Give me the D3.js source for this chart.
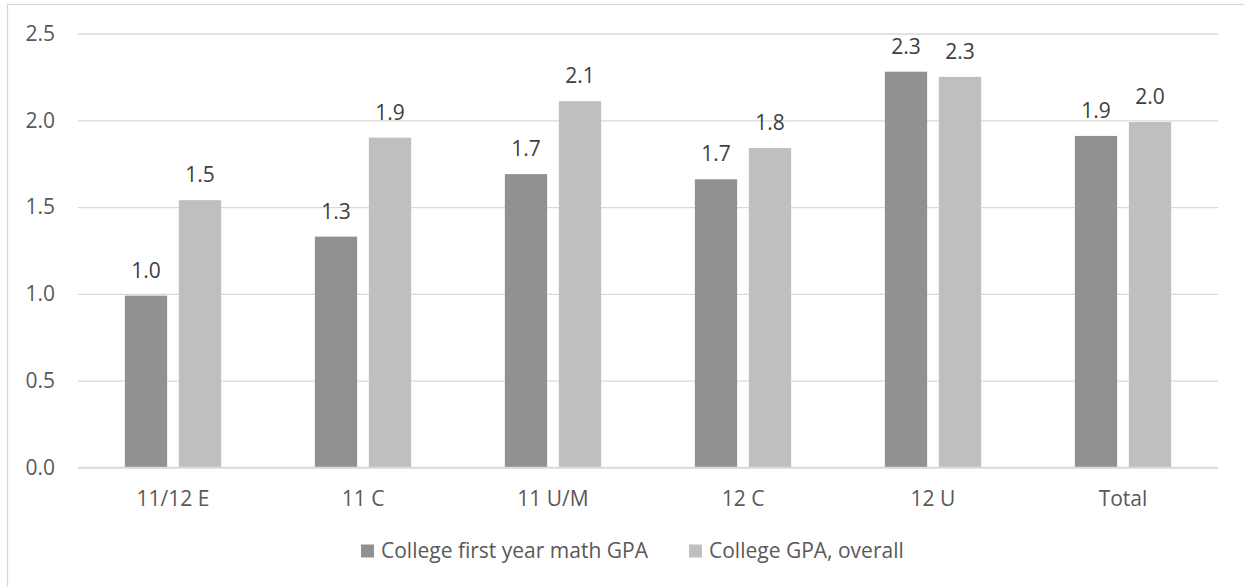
<!DOCTYPE html>
<html>
<head>
<meta charset="utf-8">
<script src="https://cdn.jsdelivr.net/npm/d3@7"></script>
<style>
  html, body { margin: 0; padding: 0; background: #fff; }
  svg { display: block; font-family: "Open Sans", sans-serif; }
</style>
</head>
<body>
<svg id="chart" width="1244" height="587"></svg>
<script>
const categories = ["11/12 E", "11 C", "11 U/M", "12 C", "12 U", "Total"];
const seriesNames = ["College first year math GPA", "College GPA, overall"];
const mathGPA = [0.99, 1.33, 1.69, 1.66, 2.28, 1.91];
const overallGPA = [1.54, 1.90, 2.11, 1.84, 2.25, 1.99];
const yTicks = [0, 0.5, 1.0, 1.5, 2.0, 2.5];
const colors = ["#919191", "#bfbfbf"];

(function () {
const svg = d3.select("#chart");
const plotL = 78, plotR = 1218, plotT = 33.5, plotB = 467.5;

// frame
svg.append("rect").attr("x", 7.5).attr("y", 4.5).attr("width", 1250).attr("height", 600)
  .attr("fill", "none").attr("stroke", "#d9d9d9").attr("stroke-width", 1.3);

const y = d3.scaleLinear().domain([0, 2.5]).range([plotB, plotT]);
const x0 = d3.scaleBand().domain(categories).range([plotL, plotR]);
const groupW = 96.3;
const x1 = d3.scaleBand().domain(seriesNames)
  .range([x0.bandwidth() / 2 - groupW / 2, x0.bandwidth() / 2 + groupW / 2])
  .paddingInner(0.217);

// gridlines + y labels
const yAxis = svg.append("g").attr("transform", `translate(${plotL},0)`)
  .call(d3.axisLeft(y).tickValues(yTicks).tickFormat(d3.format(".1f"))
    .tickSize(-(plotR - plotL)).tickPadding(23));
yAxis.select(".domain").remove();
yAxis.selectAll(".tick line").attr("stroke", "#d9d9d9").attr("stroke-width", 1.3);
yAxis.selectAll(".tick text").attr("fill", "#595959").attr("font-size", 21)
  .attr("font-family", "Open Sans, sans-serif");

// bars
const data = categories.map((c, i) => ({ cat: c, vals: [mathGPA[i], overallGPA[i]] }));
const groups = svg.append("g").selectAll("g").data(data).join("g")
  .attr("transform", d => `translate(${x0(d.cat)},0)`);
groups.selectAll("rect").data(d => d.vals.map((v, j) => ({ v, s: seriesNames[j], j })))
  .join("rect")
  .attr("x", d => x1(d.s)).attr("width", x1.bandwidth())
  .attr("y", d => y(d.v)).attr("height", d => y(0) - y(d.v))
  .attr("fill", d => colors[d.j]);
groups.selectAll("text").data(d => d.vals.map((v, j) => ({ v, s: seriesNames[j], j })))
  .join("text")
  .attr("x", d => x1(d.s) + x1.bandwidth() / 2)
  .attr("y", d => y(d.v) - 18)
  .attr("text-anchor", "middle").attr("fill", "#404040").attr("font-size", 21)
  .text(d => d3.format(".1f")(d.v));

// x axis line + labels
svg.append("line").attr("x1", plotL).attr("x2", plotR).attr("y1", y(0)).attr("y2", y(0))
  .attr("stroke", "#d9d9d9").attr("stroke-width", 1.3);
const xAxis = svg.append("g").attr("transform", `translate(0,${plotB})`)
  .call(d3.axisBottom(x0).tickSize(0));
xAxis.select(".domain").remove();
xAxis.selectAll(".tick text").attr("y", 38).attr("dy", 0).attr("fill", "#595959")
  .attr("font-size", 21).attr("font-family", "Open Sans, sans-serif");

// legend
const legend = svg.append("g");
const legendX = [361, 689];
seriesNames.forEach((s, j) => {
  const g = legend.append("g").attr("transform", `translate(${legendX[j]},0)`);
  g.append("rect").attr("x", 0).attr("y", 544.5).attr("width", 13).attr("height", 13).attr("fill", colors[j]);
  g.append("text").attr("x", 20).attr("y", 558).attr("fill", "#595959").attr("font-size", 21).text(s);
});
})();
</script>
</body>
</html>
